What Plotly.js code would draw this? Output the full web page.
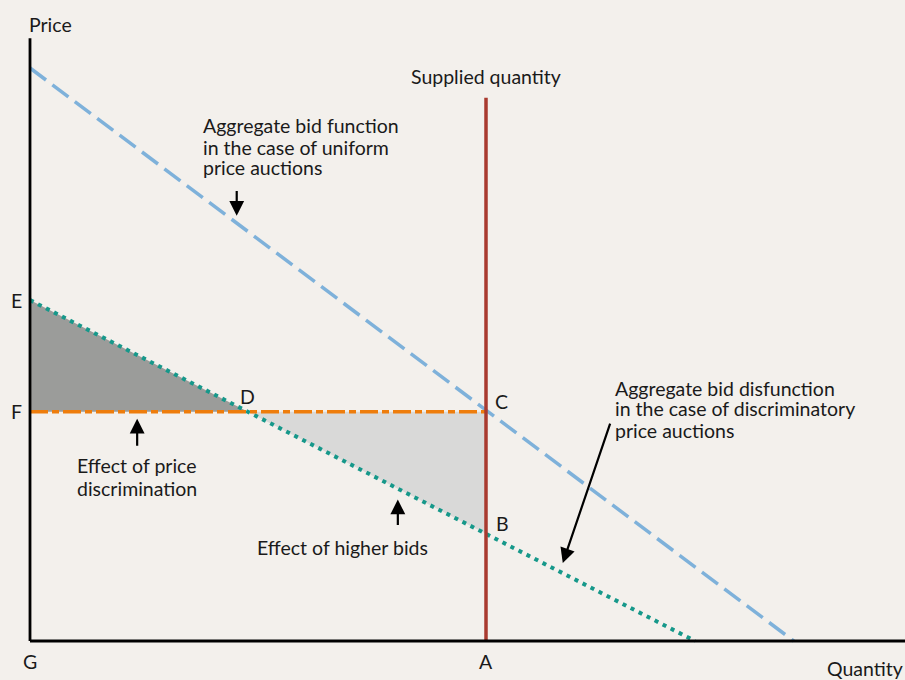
<!DOCTYPE html>
<html>
<head>
<meta charset="utf-8">
<script src="https://cdn.plot.ly/plotly-3.0.1.min.js"></script>
<style>html,body{margin:0;padding:0;background:#f3f0ec;}#chart{width:905px;height:680px;}</style>
</head>
<body>
<div id="chart"></div>
<script>
// ---- data (abstract quantity / price units) ----
const uniformQ = [0, 10.05];      // aggregate bid function, uniform price auctions
const uniformP = [10, 0];
const discrQ = [0, 8.75];         // aggregate bid function, discriminatory auctions
const discrP = [5.95, 0];
const supplyQ = 6;                // supplied quantity (A)
const supplyTop = 9.48;
const priceF = 4;                 // uniform clearing price (F / C)
const yAxisTop = 10.52;
const xAxisEnd = 12;

// derived points via line equations
const slopeD = (discrP[1] - discrP[0]) / (discrQ[1] - discrQ[0]);
const qD = (priceF - discrP[0]) / slopeD;         // D
const pB = discrP[0] + slopeD * supplyQ;          // B

const font = 'Lato, "Open Sans", sans-serif';
const txt = '#1a1a1a';
const fs = 19.5;

const traces = [
  { // dark triangle E-F-D
    x: [0, 0, qD, 0], y: [discrP[0], priceF, priceF, discrP[0]],
    mode: 'lines', fill: 'toself', fillcolor: '#9b9c9a', line: {width: 0}, hoverinfo: 'skip'
  },
  { // light triangle D-C-B
    x: [qD, supplyQ, supplyQ, qD], y: [priceF, priceF, pB, priceF],
    mode: 'lines', fill: 'toself', fillcolor: '#d9d9d8', line: {width: 0}, hoverinfo: 'skip'
  },
  { // uniform bid function
    x: uniformQ, y: uniformP, mode: 'lines',
    line: {color: '#7eb1da', width: 3.5, dash: '20px,8px'}
  },
  { // discriminatory bid function
    x: discrQ, y: discrP, mode: 'lines',
    line: {color: '#16988a', width: 4, dash: '4px,5px'}
  },
  { // orange price line F-C
    x: [0, supplyQ], y: [priceF, priceF], mode: 'lines',
    line: {color: '#ee7d0c', width: 3.5, dash: '18px,4px,7px,4px'}
  },
  { // supplied quantity
    x: [supplyQ, supplyQ], y: [0, supplyTop], mode: 'lines',
    line: {color: '#a93a2f', width: 3.5}
  },
  { // price axis
    x: [0, 0], y: [0, yAxisTop], mode: 'lines', line: {color: '#000', width: 2.8}
  },
  { // quantity axis
    x: [0, xAxisEnd], y: [0, 0], mode: 'lines', line: {color: '#000', width: 3}
  }
];

function lab(text, x, y, opts) {
  return Object.assign({
    text: text, x: x, y: y, xref: 'x', yref: 'y', showarrow: false, borderpad: 0,
    font: {family: font, size: fs, color: txt}, xanchor: 'center', yanchor: 'middle'
  }, opts || {});
}
function arrow(xTip, yTip, xTail, yTail) {
  return {
    x: xTip, y: yTip, ax: xTail, ay: yTail, xref: 'x', yref: 'y', axref: 'x', ayref: 'y',
    text: '', showarrow: true, arrowhead: 2, arrowsize: 1.35, arrowwidth: 2.2, arrowcolor: '#000'
  };
}

const annotations = [
  lab('Price', 0, yAxisTop, {xanchor: 'left', xshift: -2, yshift: 14}),
  lab('E', 0, discrP[0], {xshift: -14}),
  lab('F', 0, priceF, {xshift: -14}),
  lab('D', qD, priceF, {xshift: 0, yshift: 15}),
  lab('C', supplyQ, priceF, {xshift: 15, yshift: 10}),
  lab('B', supplyQ, pB, {xshift: 16, yshift: 10}),
  lab('G', 0, 0, {yshift: -20}),
  lab('A', supplyQ, 0, {yshift: -20}),
  lab('Quantity', xAxisEnd, 0, {x: 11.5, xanchor: 'right', yshift: -27}),
  lab('Supplied quantity', supplyQ, supplyTop, {yshift: 21}),
  lab('Aggregate bid function', 2.26, 8.99, {xanchor: 'left'}),
  lab('in the case of uniform', 2.26, 8.62, {xanchor: 'left'}),
  lab('price auctions', 2.26, 8.27, {xanchor: 'left'}),
  arrow(2.72, 7.42, 2.72, 7.88),
  lab('Aggregate bid disfunction', 7.68, 4.40, {xanchor: 'left'}),
  lab('in the case of discriminatory', 7.68, 4.05, {xanchor: 'left'}),
  lab('price auctions', 7.68, 3.67, {xanchor: 'left'}),
  arrow(7.01, 1.36, 7.64, 3.82),
  arrow(1.41, 3.88, 1.41, 3.38),
  lab('Effect of price', 1.41, 3.07),
  lab('discrimination', 1.41, 2.67),
  arrow(4.84, 2.47, 4.84, 2.0),
  lab('Effect of higher bids', 4.11, 1.64)
];

const layout = {
  width: 905, height: 680,
  margin: {l: 0, r: 0, t: 0, b: 0},
  paper_bgcolor: '#f3f0ec', plot_bgcolor: '#f3f0ec',
  showlegend: false,
  xaxis: {range: [-30/76, 875/76], visible: false, fixedrange: true},
  yaxis: {range: [-39/57.3, 641/57.3], visible: false, fixedrange: true},
  annotations: annotations
};

Plotly.newPlot('chart', traces, layout, {displayModeBar: false, staticPlot: true});
</script>
</body>
</html>
